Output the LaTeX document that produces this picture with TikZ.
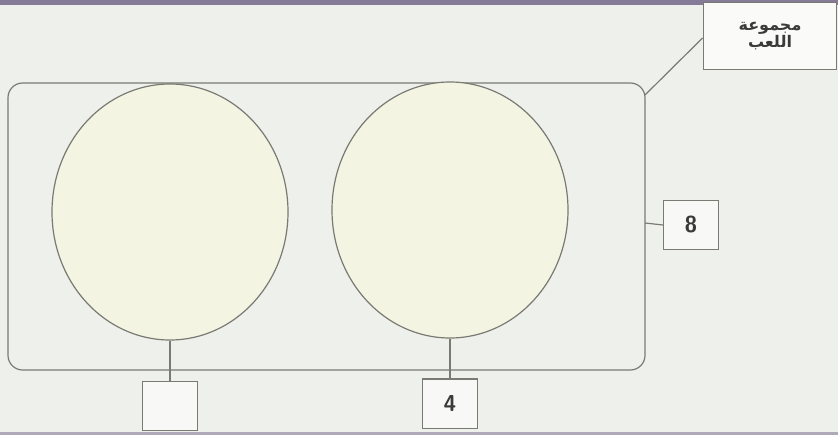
\documentclass[tikz,border=0pt]{standalone}
\usepackage{fontspec}
\newfontfamily\arabicfont[Script=Arabic]{DejaVu Sans}
\TeXXeTstate=1
\definecolor{bg}{HTML}{EEF0EC}
\definecolor{fillc}{HTML}{F3F4E2}
\definecolor{linec}{HTML}{7A7A72}
\definecolor{band}{HTML}{857A98}
\definecolor{txt}{HTML}{3A3A3A}
\tikzset{
  outline/.style={draw=linec, line width=0.9pt},
  numbox/.style={draw=linec, line width=1pt, fill=white!60!bg, minimum width=41pt, minimum height=37pt, inner sep=0pt, text=txt, font=\sffamily\bfseries\LARGE},
  setcircle/.style={outline, fill=fillc, ellipse, minimum width=177pt, minimum height=192pt, inner sep=0pt}
}
\usetikzlibrary{shapes.geometric}
\begin{document}
\begin{tikzpicture}[x=0.75pt,y=-0.75pt]
\useasboundingbox (0,0) rectangle (838,435);
\fill[bg] (0,0) rectangle (838,435);
\fill[band] (0,0) rectangle (838,5);
\fill[band!60!bg] (0,432) rectangle (838,435);
\draw[outline, rounded corners=11pt] (8,83) rectangle (645,370);
\node[setcircle] (c1) at (170,212) {};
\node[setcircle] (c2) at (450,210) {};
\node[numbox] (b1) at (170,406) {};
\node[numbox] (b2) at (450,403.5) {4};
\node[numbox] (b3) at (691,225) {8};
\node[draw=linec, line width=1.2pt, fill=white!70!bg, minimum width=100pt, minimum height=50pt, inner sep=2pt, align=center, text=txt, font=\arabicfont\bfseries\large] (lab) at (770,36) {\beginR مجموعة\endR\\[-1pt]\beginR اللعب\endR};
\coordinate (corner) at (645,95);
\coordinate (rr) at (645,223);
\draw[outline] (c1.south) -- (b1.north);
\draw[outline] (c2.south) -- (b2.north);
\draw[outline] (rr) -- (b3.west);
\draw[outline] (corner) -- (lab.west |- 0,38);
\end{tikzpicture}
\end{document}
